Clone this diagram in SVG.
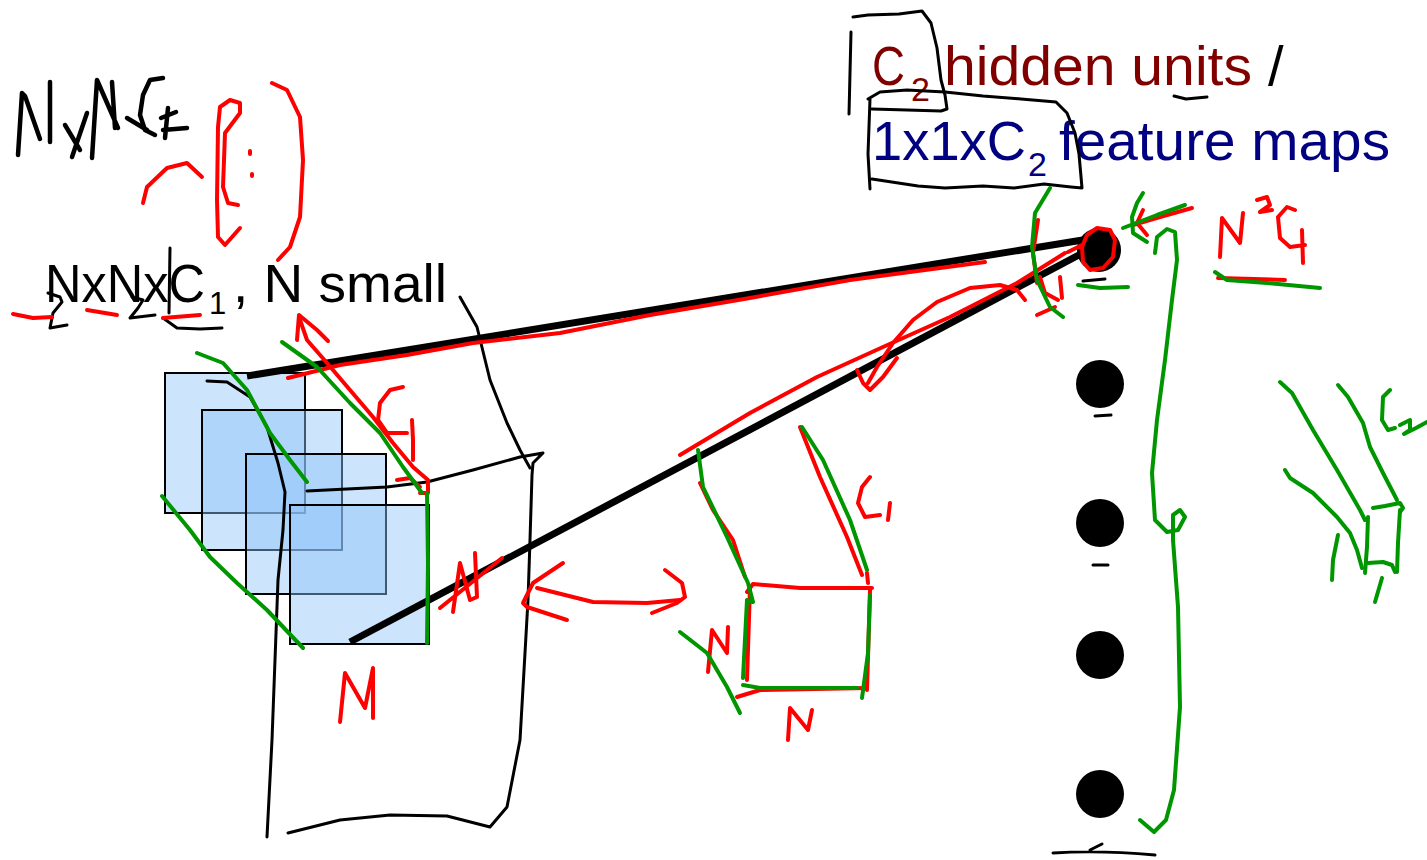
<svg xmlns="http://www.w3.org/2000/svg" width="1427" height="860" viewBox="0 0 1427 860">
  <style>
    .slide { font-family: "Liberation Sans", Arial, sans-serif; }
    .maroon { fill: #800000; }
    .navy { fill: #000080; }
    .plain { fill: #000000; }
    .fmap { fill: rgb(142,195,248); fill-opacity: 0.45; stroke: #000; stroke-width: 2; }
    .unit { fill: #000; }
    .wire { stroke: #000; stroke-width: 7; fill: none; stroke-linecap: butt; }
    .ink { fill: none; stroke-linecap: round; stroke-linejoin: round; }
    .blk { stroke: #000; stroke-width: 3; }
    .blk-thick { stroke: #000; stroke-width: 4.5; }
    .red { stroke: #ff0000; stroke-width: 4; }
    .grn { stroke: #009600; stroke-width: 4; }
  </style>
  <rect width="1427" height="860" fill="#ffffff"/>

  <!-- slide captions -->
  <g id="caption-hidden" class="slide">
    <text x="872" y="85" font-size="56" class="maroon" textLength="33" lengthAdjust="spacingAndGlyphs">C</text>
    <text x="911" y="101" font-size="34" class="maroon">2</text>
    <text x="944" y="85" font-size="56" class="maroon" textLength="308" lengthAdjust="spacingAndGlyphs">hidden units</text>
    <text x="1268" y="85" font-size="56" class="plain">/</text>
    <text x="872" y="160" font-size="56" class="navy" textLength="154" lengthAdjust="spacingAndGlyphs">1x1xC</text>
    <text x="1028" y="176" font-size="34" class="navy">2</text>
    <text x="1059" y="160" font-size="56" class="navy" textLength="331" lengthAdjust="spacingAndGlyphs">feature maps</text>
  </g>
  <g id="caption-input" class="slide">
    <text x="45" y="302" font-size="54" class="plain" textLength="160" lengthAdjust="spacingAndGlyphs">NxNxC</text>
    <text x="209" y="314" font-size="31" class="plain">1</text>
    <text x="233" y="302" font-size="54" class="plain" textLength="214" lengthAdjust="spacingAndGlyphs">, N small</text>
  </g>

  <!-- stacked input feature maps -->
  <g id="input-maps">
    <rect class="fmap" x="165" y="373" width="140" height="140"/>
    <rect class="fmap" x="202" y="410" width="140" height="140"/>
    <rect class="fmap" x="246" y="454" width="140" height="140"/>
    <rect class="fmap" x="290" y="505" width="139" height="139"/>
  </g>

  <!-- receptive-field lines -->
  <g id="connectors">
    <path class="wire" d="M247,376 L1095,238"/>
    <path class="wire" d="M350,642 L1092,248"/>
  </g>

  <!-- hidden units -->
  <g id="unit-1"><circle class="unit" cx="1099" cy="250" r="22"/></g>
  <g id="unit-2"><circle class="unit" cx="1100" cy="384" r="24"/></g>
  <g id="unit-3"><circle class="unit" cx="1100" cy="523" r="24"/></g>
  <g id="unit-4"><circle class="unit" cx="1100" cy="655" r="24"/></g>
  <g id="unit-5"><circle class="unit" cx="1100" cy="794" r="24"/></g>

  <!-- black pen -->
  <g id="pen-black" class="ink">
    <!-- N x N C2 -->
    <path class="blk-thick" d="M18,155 L22,93 L25,96 L40,139 M50,82 L50,142"/>
    <path class="blk-thick" d="M65,125 L80,150 M87,113 L72,157"/>
    <path class="blk-thick" d="M92,158 L97,80 L118,128 M115,128 L112,82"/>
    <path class="blk-thick" d="M163,78 L150,80 L143,95 L140,115 L145,130 L155,135 M127,118 L147,130"/>
    <path class="blk-thick" d="M161,118 L176,112 M168,108 L165,138 M163,130 L187,128"/>
    <!-- squared factors under the caption -->
    <path class="blk" d="M48,293 L60,297 L62,302 L53,313 L50,328 L67,325"/>
    <path class="blk" d="M132,297 L143,300 L138,308 L130,318 L155,315"/>
    <path class="blk" d="M170,248 L169,313 M163,318 L177,328 L200,329 L222,328"/>
    <!-- boxes round the output captions -->
    <path class="blk" d="M851,32 L849,114 M853,17 L868,15 L899,14 L922,11 L931,23 L937,48 L941,80 L945,95 L947,109 L941,111 L907,110 L872,109"/>
    <path class="blk" d="M868,99 L880,92 L907,90 L945,92 L983,96 L1021,99 L1056,102 L1067,113 L1075,133 L1079,154 L1082,188 L1071,187 L1044,184 L1014,188 L983,186 L945,188 L918,186 L872,179 M870,99 L868,154 L870,189"/>
    <path class="blk" d="M1174,96 L1186,99 L1207,97"/>
    <!-- bracket over the maps -->
    <path class="blk" d="M207,381 L227,382 L250,397 L267,427 L278,463 L285,492 L283,530 L278,580 L275,660 L272,740 L267,837"/>
    <path class="blk" d="M460,297 L477,327 L490,380 L507,423 L520,450 L530,468"/>
    <path class="blk" d="M307,491 L387,487 L427,482 L473,470 L520,457 L543,453 L533,463 L532,475 L530,540 L528,600 L525,653 L520,740 L507,807 L490,827 L447,816 L390,815 L340,820 L288,833"/>
    <!-- ticks under units -->
    <path class="blk" d="M1083,281 L1105,279"/>
    <path class="blk" d="M1095,416 L1111,415"/>
    <path class="blk" d="M1093,565 L1108,565"/>
    <path class="blk" d="M1053,853 Q1100,850 1155,855 M1090,850 L1102,844"/>
  </g>

  <!-- red pen -->
  <g id="pen-red" class="ink">
    <path class="red" d="M143,203 L147,187 L167,168 L187,163 L202,177"/>
    <path class="red" d="M238,205 L228,203 L223,187 L225,133 L240,113 L240,103 L230,100 L220,107 L218,127 L217,200 L218,237 L225,245 L240,228"/>
    <path class="red" d="M250,151 L250,154 M252,174 L252,176"/>
    <path class="red" d="M272,83 L287,90 L300,117 L303,160 L300,217 L290,247 L278,260"/>
    <path class="red" d="M13,314 L33,318 L52,317 M87,310 L117,315 M163,318 L200,315"/>
    <!-- N / C1 along the stack -->
    <path class="red" d="M297,340 L299,315 L317,330 L328,341"/>
    <path class="red" d="M299,317 L307,340 L327,363 L350,390 L373,417 L393,443 L413,467 L428,480 L428,493 L420,493"/>
    <path class="red" d="M403,387 L390,390 L380,403 L378,420 L387,433 L407,433 M412,420 L413,440 L413,460"/>
    <path class="red" d="M397,480 L410,478 L420,487"/>
    <path class="red" d="M288,378 L340,365 L407,355 L473,343 L560,333 L650,315 L750,298 L850,280 L985,262"/>
    <path class="red" d="M453,612 L460,563 L470,600 L477,597 L475,553 M440,608 L502,558"/>
    <path class="red" d="M340,722 L345,673 L365,708 L373,668 L373,718"/>
    <!-- arrow to the single patch -->
    <path class="red" d="M563,563 L533,583 L523,603 L527,607 L567,620"/>
    <path class="red" d="M537,588 L593,602 L647,603 L680,600"/>
    <path class="red" d="M665,570 L682,583 L685,597 L677,603 L652,613"/>
    <!-- patch -->
    <path class="red" d="M747,592 L753,584 L800,588 L872,588"/>
    <path class="red" d="M870,590 L867,690"/>
    <path class="red" d="M737,697 L760,690 L867,688"/>
    <path class="red" d="M750,587 L747,680"/>
    <path class="red" d="M700,483 L713,510 L733,540 L745,577"/>
    <path class="red" d="M800,427 L820,477 L847,537 L862,575 M867,573 L868,583"/>
    <path class="red" d="M870,477 L862,487 L858,503 L865,517 L880,515 M890,503 L888,520"/>
    <path class="red" d="M708,672 L712,630 L727,653 L728,627"/>
    <path class="red" d="M788,740 L790,708 L808,730 L812,710"/>
    <!-- lines toward the first unit -->
    <path class="red" d="M680,455 L750,413 L817,377 L883,347 L950,317 L1017,283 L1065,253"/>
    <path class="red" d="M857,370 L863,383 L870,390 L883,377 L897,358"/>
    <path class="red" d="M868,383 L877,367 L893,343 L913,320 L937,302 L970,288 L1000,285 L1017,290 L1025,300"/>
    <path class="red" d="M1038,220 L1033,253 L1037,283"/>
    <path class="red" d="M1040,277 L1045,293 L1058,300 M1060,277 L1062,298 M1037,315 L1055,307"/>
    <path class="red" d="M1097,228 L1110,230 L1115,240 L1113,257 L1103,268 L1090,270 L1083,262 L1082,247 L1087,235 L1097,228 M1082,245 L1068,252"/>
    <path class="red" d="M1192,208 L1160,217 L1133,225 M1143,210 L1137,223 L1147,235"/>
    <!-- N^2 C1 -->
    <path class="red" d="M1220,257 L1222,218 L1240,243 L1243,213"/>
    <path class="red" d="M1257,200 L1267,197 L1270,205 L1260,212 L1272,210"/>
    <path class="red" d="M1295,210 L1287,207 L1278,217 L1280,238 L1290,247 L1305,245 M1302,230 L1303,263"/>
    <path class="red" d="M1218,278 L1285,280"/>
  </g>

  <!-- green pen -->
  <g id="pen-green" class="ink">
    <path class="grn" d="M197,353 L223,363 L247,390 L270,433 L290,460 L307,482"/>
    <path class="grn" d="M162,496 L190,530 L210,557 L237,583 L267,610 L303,648"/>
    <path class="grn" d="M282,342 L317,367 L350,403 L380,433 L403,467 L422,493"/>
    <path class="grn" d="M427,493 L428,563 L427,643"/>
    <!-- patch -->
    <path class="grn" d="M698,450 L703,487 L727,537 L748,583 L753,602"/>
    <path class="grn" d="M802,427 L823,460 L850,520 L867,570"/>
    <path class="grn" d="M752,602 L747,600 L743,678"/>
    <path class="grn" d="M743,685 L760,688 L857,688"/>
    <path class="grn" d="M870,595 L868,653 L862,698"/>
    <path class="grn" d="M680,632 L707,653 L727,687 L740,713"/>
    <!-- around the first unit -->
    <path class="grn" d="M1050,188 L1035,213 L1032,247 L1037,280 L1050,307 L1063,317"/>
    <path class="grn" d="M1078,285 L1100,288 L1128,287"/>
    <path class="grn" d="M1185,205 L1157,215 L1123,228 M1143,193 L1137,203 L1132,217 L1133,233 L1147,242"/>
    <path class="grn" d="M1215,272 L1227,280 L1267,283 L1320,288"/>
    <!-- brace over the units -->
    <path class="grn" d="M1155,253 L1157,237 L1167,229 L1175,232 L1177,260 L1172,300 L1165,360 L1157,420 L1152,473 L1155,520 L1167,532 L1178,530 L1185,517 L1180,510 L1173,515 L1173,540 L1178,607 L1180,707 L1174,790 L1166,820 L1154,832 L1140,820"/>
    <!-- 1x1xC2 sketch -->
    <path class="grn" d="M1280,382 L1292,393 L1313,430 L1337,470 L1360,510 L1365,520"/>
    <path class="grn" d="M1338,385 L1348,397 L1363,423 L1370,447 L1383,473 L1397,500"/>
    <path class="grn" d="M1285,470 L1290,478 L1313,493 L1337,517 L1350,533 L1357,550 L1362,568"/>
    <path class="grn" d="M1368,517 L1367,547 L1365,573"/>
    <path class="grn" d="M1373,508 L1385,506 L1400,503 L1403,508 L1400,512"/>
    <path class="grn" d="M1400,510 L1398,543 L1397,572"/>
    <path class="grn" d="M1368,563 L1383,562 L1392,565 L1395,572"/>
    <path class="grn" d="M1338,535 L1333,560 L1332,580"/>
    <path class="grn" d="M1382,578 L1375,602"/>
    <path class="grn" d="M1390,390 L1383,397 L1382,420 L1388,430 L1395,428 M1400,425 L1410,420 L1410,430 L1404,434 L1416,428 L1427,422"/>
  </g>
</svg>
